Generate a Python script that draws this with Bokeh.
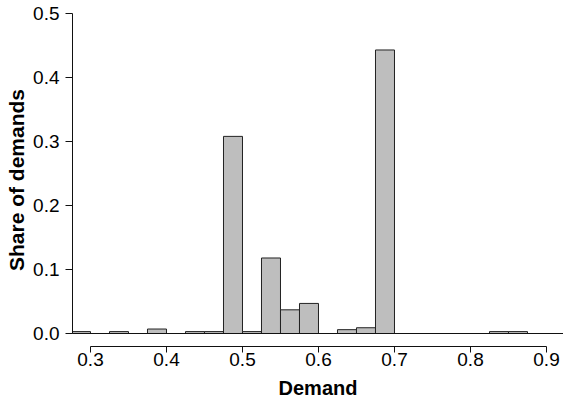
from bokeh.plotting import figure
from bokeh.models import Range1d, FixedTicker, PrintfTickFormatter, Span, ColumnDataSource
from bokeh.embed import file_html
from bokeh.resources import INLINE

# Histogram data (bin start, share), bins of width 0.025
bin_starts = [0.275, 0.325, 0.375, 0.425, 0.45, 0.475, 0.5, 0.525, 0.55, 0.575, 0.625, 0.65, 0.675, 0.825, 0.85]
shares = [0.003, 0.003, 0.007, 0.003, 0.003, 0.308, 0.003, 0.118, 0.037, 0.047, 0.006, 0.009, 0.443, 0.003, 0.003]
bin_width = 0.025
x_ticks = [0.3, 0.4, 0.5, 0.6, 0.7, 0.8, 0.9]
y_ticks = [0.0, 0.1, 0.2, 0.3, 0.4, 0.5]

src = ColumnDataSource(dict(
    left=bin_starts,
    right=[b + bin_width for b in bin_starts],
    top=shares,
    bottom=[0.0] * len(shares),
))

FONT = "Liberation Sans"

p = figure(width=563, height=408, output_backend="svg", toolbar_location=None,
           x_range=Range1d(0.27632, 0.92237), y_range=Range1d(-0.0203, 0.5),
           min_border_top=13, min_border_right=0, min_border_left=72, min_border_bottom=62)
p.outline_line_color = None
p.xgrid.visible = False
p.ygrid.visible = False
p.background_fill_color = "white"
p.border_fill_color = "white"

p.quad(left="left", right="right", top="top", bottom="bottom", source=src,
       fill_color="#bebebe", line_color="#222222", line_width=1)

p.add_layout(Span(location=0, dimension="width", line_color="#111111", line_width=1))

xa = p.xaxis[0]
xa.ticker = FixedTicker(ticks=x_ticks)
xa.bounds = (0.3, 0.9)
xa.minor_tick_line_color = None
xa.major_tick_in = 0
xa.major_tick_out = 6
xa.major_label_standoff = 0
xa.axis_line_color = "#111111"
xa.major_tick_line_color = "#111111"
xa.major_label_text_font = FONT
xa.major_label_text_font_size = "19px"
xa.major_label_text_color = "black"
xa.axis_label = "Demand"
xa.axis_label_text_font = FONT
xa.axis_label_text_font_style = "bold"
xa.axis_label_text_font_size = "20px"
xa.axis_label_text_color = "black"
xa.axis_label_standoff = 8

ya = p.yaxis[0]
ya.ticker = FixedTicker(ticks=y_ticks)
ya.bounds = (0.0, 0.5)
ya.formatter = PrintfTickFormatter(format="%.1f")
ya.minor_tick_line_color = None
ya.major_tick_in = 0
ya.major_tick_out = 7
ya.major_label_standoff = 6
ya.axis_line_color = "#111111"
ya.major_tick_line_color = "#111111"
ya.major_label_text_font = FONT
ya.major_label_text_font_size = "19px"
ya.major_label_text_color = "black"
ya.axis_label = "Share of demands"
ya.axis_label_text_font = FONT
ya.axis_label_text_font_style = "bold"
ya.axis_label_text_font_size = "21px"
ya.axis_label_text_color = "black"
ya.axis_label_standoff = 2

open("out.html", "w").write(file_html(p, INLINE))
